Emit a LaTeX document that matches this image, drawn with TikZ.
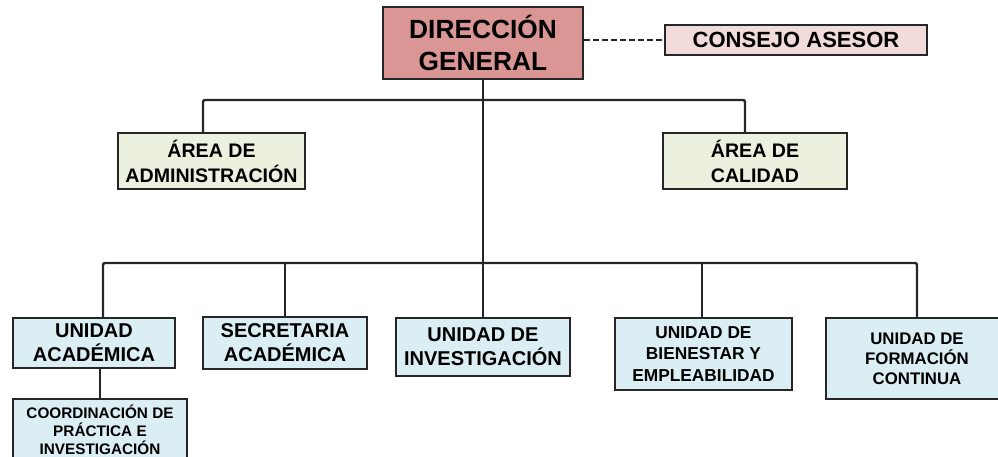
\documentclass[tikz,border=0pt]{standalone}
\usepackage{fontspec}
\setmainfont{Liberation Sans}
\usepackage{xcolor}
\usetikzlibrary{positioning, calc}
\definecolor{dirred}{HTML}{D99694}
\definecolor{advpink}{HTML}{F2DCDB}
\definecolor{areagreen}{HTML}{EBF1DE}
\definecolor{unitblue}{HTML}{DAEEF3}

\begin{document}
\begin{tikzpicture}[x=1pt, y=-1pt,
  box/.style={rectangle, draw=black!85, line width=2.4pt, inner sep=0pt, align=center, text=black},
  topbox/.style={box, fill=dirred, minimum width=200pt, minimum height=72pt, font=\fontsize{26.3}{32}\selectfont\bfseries},
  advbox/.style={box, fill=advpink, minimum width=262pt, minimum height=30pt, font=\fontsize{22}{25}\selectfont\bfseries},
  areabox/.style={box, fill=areagreen, minimum height=56pt, font=\fontsize{19.6}{25}\selectfont\bfseries},
  unitbox/.style={box, fill=unitblue, font=\fontsize{20}{24}\selectfont\bfseries},
  smallunit/.style={box, fill=unitblue, font=\fontsize{17.3}{21.5}\selectfont\bfseries},
  conn/.style={draw=black!85, line width=2.4pt, rounded corners=2pt},
  dashconn/.style={draw=black!85, line width=2.4pt, dash pattern=on 6pt off 3pt}
]
  \useasboundingbox (0,0) rectangle (998,456);

  % Top level
  \node[topbox] (dir) at (483, 43) {DIRECCIÓN\\GENERAL};
  \node[advbox] (consejo) at (796, 40) {CONSEJO ASESOR};

  % Areas
  \node[areabox, minimum width=187pt] (admin) at (211.5, 161) {ÁREA DE\\ADMINISTRACIÓN};
  \node[areabox, minimum width=184pt] (calidad) at (755, 161) {ÁREA DE\\CALIDAD};

  % Units
  \node[unitbox, minimum width=162pt, minimum height=50pt] (uacad) at (94, 343) {UNIDAD\\ACADÉMICA};
  \node[unitbox, minimum width=164pt, minimum height=52pt] (secre) at (285, 343) {SECRETARIA\\ACADÉMICA};
  \node[unitbox, minimum width=174pt, minimum height=58pt] (invest) at (483, 347) {UNIDAD DE\\INVESTIGACIÓN};
  \node[smallunit, minimum width=177pt, minimum height=72pt] (bienes) at (703.5, 354) {UNIDAD DE\\BIENESTAR Y\\EMPLEABILIDAD};
  \node[smallunit, minimum width=182pt, minimum height=81pt, font=\fontsize{16.8}{20}\selectfont\bfseries] (formac) at (917, 358.5) {UNIDAD DE\\FORMACIÓN\\CONTINUA};
  \node[box, fill=unitblue, minimum width=174pt, minimum height=62pt, font=\fontsize{15.3}{18}\selectfont\bfseries] (coord) at (100, 430) {COORDINACIÓN DE\\PRÁCTICA E\\INVESTIGACIÓN};

  % Hubs
  \coordinate (hubA) at (483, 100);
  \coordinate (hubB) at (483, 263);

  % Connections
  \draw[dashconn] (dir.east |- consejo.west) -- (consejo.west);
  \draw[conn] (dir.south) -- (hubB);
  \draw[conn] ([xshift=-8.5pt]admin.north) |- (hubA) -| ([xshift=-10pt]calidad.north);
  \draw[conn] ([xshift=9pt]uacad.north) |- (hubB) -| (formac.north);
  \draw[conn] (secre.north) -- (secre.north |- hubB);
  \draw[conn] ([xshift=-1.5pt]bienes.north) -- ([xshift=-1.5pt]bienes.north |- hubB);
  \draw[conn] (invest.north) -- (hubB);
  \draw[conn] (coord.north) -- (coord.north |- uacad.south);
\end{tikzpicture}
\end{document}
